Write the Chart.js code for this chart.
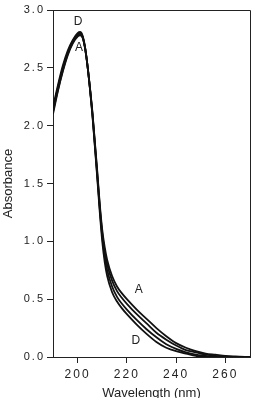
<!DOCTYPE html>
<html>
<head>
<meta charset="utf-8">
<script src="https://cdn.jsdelivr.net/npm/chart.js@4"></script>
<style>
  html, body { margin: 0; padding: 0; background: #fff; }
  #wrap { width: 257px; height: 398px; }
</style>
</head>
<body>
<div id="wrap"><canvas id="spectraChart" width="257" height="398"></canvas></div>
<script>
// Wavelength grid (nm)
const wavelength = [190, 192, 194, 196, 198, 200, 201, 202, 203, 204, 205, 206, 207, 208, 209, 210, 211, 212,
  214, 216, 218, 220, 224, 228, 232, 236, 240, 244, 248, 252, 256, 260, 264, 270];

// Absorbance curves
const seriesA = [2.10, 2.30, 2.47, 2.61, 2.71, 2.77, 2.78, 2.76, 2.67, 2.52, 2.33, 2.12, 1.86, 1.60, 1.32, 1.10, 0.95, 0.84,
  0.70, 0.61, 0.55, 0.50, 0.41, 0.33, 0.25, 0.18, 0.12, 0.08, 0.05, 0.03, 0.02, 0.01, 0.005, 0.00];
const seriesB = [2.12, 2.31, 2.48, 2.62, 2.72, 2.78, 2.79, 2.77, 2.67, 2.52, 2.33, 2.11, 1.85, 1.58, 1.30, 1.07, 0.91, 0.80,
  0.66, 0.57, 0.51, 0.46, 0.37, 0.29, 0.21, 0.15, 0.10, 0.06, 0.04, 0.02, 0.01, 0.005, 0.00, 0.00];
const seriesC = [2.14, 2.33, 2.50, 2.63, 2.73, 2.79, 2.80, 2.77, 2.68, 2.52, 2.32, 2.10, 1.83, 1.56, 1.28, 1.04, 0.87, 0.75,
  0.61, 0.52, 0.46, 0.41, 0.32, 0.24, 0.17, 0.11, 0.07, 0.04, 0.02, 0.01, 0.00, 0.00, 0.00, 0.00];
const seriesD = [2.16, 2.35, 2.52, 2.65, 2.74, 2.80, 2.81, 2.78, 2.68, 2.52, 2.32, 2.09, 1.82, 1.54, 1.25, 1.00, 0.82, 0.70,
  0.56, 0.48, 0.42, 0.37, 0.28, 0.20, 0.13, 0.08, 0.05, 0.03, 0.01, 0.00, 0.00, 0.00, 0.00, 0.00];

// Tick labels
const xTicks = [200, 220, 240, 260];
const yTicks = [0, 0.5, 1.0, 1.5, 2.0, 2.5, 3.0];

// Curve labels in data units
const labelTexts = ["D", "A", "A", "D"];
const labelX = [200.2, 200.6, 224.8, 223.6];
const labelY = [2.90, 2.67, 0.58, 0.14];

const toPoints = (ys) => wavelength.map((x, i) => ({ x: x, y: ys[i] }));

const axisColor = "#222";
const fontFamily = "'Liberation Sans', Arial, sans-serif";

// Box, curve labels and axis titles
const decorPlugin = {
  id: "decor",
  beforeDraw(chart) {
    chart.ctx.letterSpacing = "2px"; // spaced tick digits like "3. 0"
  },
  afterDraw(chart) {
    const { ctx, chartArea, scales } = chart;
    ctx.save();
    ctx.letterSpacing = "0px";
    ctx.strokeStyle = axisColor;
    ctx.lineWidth = 1;
    ctx.beginPath();
    ctx.moveTo(chartArea.left, chartArea.top + 0.5);
    ctx.lineTo(chartArea.right + 0.5, chartArea.top + 0.5);
    ctx.lineTo(chartArea.right + 0.5, chartArea.bottom);
    ctx.stroke();

    ctx.fillStyle = axisColor;
    ctx.font = "12px " + fontFamily;
    ctx.textAlign = "center";
    ctx.textBaseline = "middle";
    labelTexts.forEach((t, i) => {
      ctx.fillText(t, scales.x.getPixelForValue(labelX[i]), scales.y.getPixelForValue(labelY[i]));
    });

    ctx.font = "13px " + fontFamily;
    ctx.fillText("Wavelength (nm)", (chartArea.left + chartArea.right) / 2, 393);
    ctx.translate(8, (chartArea.top + chartArea.bottom) / 2);
    ctx.rotate(-Math.PI / 2);
    ctx.fillText("Absorbance", 0, 0);
    ctx.restore();
  }
};

const lineStyle = {
  borderColor: "#111",
  borderWidth: 1.8,
  pointRadius: 0,
  fill: false,
  cubicInterpolationMode: "monotone"
};

new Chart(document.getElementById("spectraChart").getContext("2d"), {
  type: "line",
  data: {
    datasets: [
      { label: "A", data: toPoints(seriesA), ...lineStyle },
      { label: "B", data: toPoints(seriesB), ...lineStyle },
      { label: "C", data: toPoints(seriesC), ...lineStyle },
      { label: "D", data: toPoints(seriesD), ...lineStyle }
    ]
  },
  options: {
    responsive: false,
    animation: false,
    layout: { padding: { left: 0, right: 7, top: 10, bottom: 0 } },
    plugins: {
      legend: { display: false },
      tooltip: { enabled: false }
    },
    scales: {
      x: {
        type: "linear",
        min: 190,
        max: 270,
        afterBuildTicks: (scale) => { scale.ticks = xTicks.map(v => ({ value: v })); },
        afterFit: (scale) => { scale.height = 41; },
        grid: { drawOnChartArea: false, tickLength: 6, color: axisColor },
        border: { display: true, color: axisColor, width: 1 },
        ticks: { color: axisColor, padding: 4, maxRotation: 0, font: { size: 12, family: fontFamily } }
      },
      y: {
        min: 0,
        max: 3,
        afterBuildTicks: (scale) => { scale.ticks = yTicks.map(v => ({ value: v })); },
        afterFit: (scale) => { scale.width = 53; },
        grid: { drawOnChartArea: false, tickLength: 6, color: axisColor },
        border: { display: true, color: axisColor, width: 1 },
        ticks: {
          color: axisColor,
          padding: 2,
          font: { size: 11, family: fontFamily },
          callback: (v) => v.toFixed(1)
        }
      }
    }
  },
  plugins: [decorPlugin]
});
</script>
</body>
</html>
